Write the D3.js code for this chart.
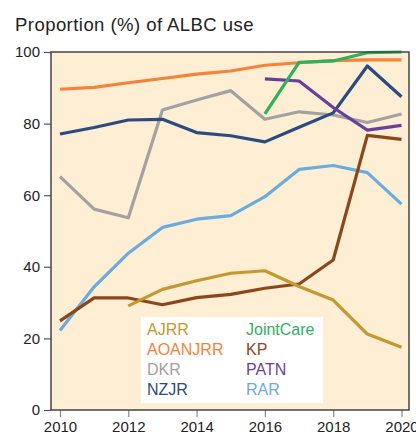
<!DOCTYPE html>
<html>
<head>
  <meta charset="utf-8">
  <script src="https://d3js.org/d3.v7.min.js"></script>
  <style>
    body { margin: 0; background: #fff; }
    svg { display: block; font-family: "Liberation Sans", Arial, sans-serif; }
  </style>
</head>
<body>
<script>
  // years on the x axis
  var years = [2010, 2011, 2012, 2013, 2014, 2015, 2016, 2017, 2018, 2019, 2020];
  var yTicks = [0, 20, 40, 60, 80, 100];
  var xTicks = [2010, 2012, 2014, 2016, 2018, 2020];

  // proportion (%) per registry, null = no data that year
  var ajrr     = [null, null, 29.1, 33.7, 36.1, 38.2, 38.9, 34.5, 30.7, 21.2, 17.5];
  var aoanjrr  = [89.6, 90.1, 91.4, 92.6, 93.8, 94.7, 96.3, 97.0, 97.6, 97.8, 97.8];
  var dkr      = [65.2, 56.1, 53.7, 83.8, 86.6, 89.2, 81.2, 83.3, 82.4, 80.3, 82.7];
  var nzjr     = [77.1, 78.9, 81.0, 81.2, 77.5, 76.6, 74.9, 79.0, 83.0, 96.1, 87.5];
  var jointcare= [null, null, null, null, null, null, 82.7, 97.1, 97.5, 99.8, 100];
  var kp       = [24.9, 31.3, 31.3, 29.4, 31.4, 32.3, 34.0, 35.2, 41.9, 76.7, 75.6];
  var patn     = [null, null, null, null, null, null, 92.5, 91.9, 84.5, 78.2, 79.5];
  var rar      = [22.2, 34.4, 43.8, 51.0, 53.3, 54.3, 59.6, 67.2, 68.3, 66.3, 57.5];

  var seriesNames = ["AJRR", "AOANJRR", "DKR", "NZJR", "JointCare", "KP", "PATN", "RAR"];
  var seriesValues = [ajrr, aoanjrr, dkr, nzjr, jointcare, kp, patn, rar];
  var colors = ["#c4982f", "#f5823b", "#a2a2a2", "#2b4a82", "#2eb05f", "#8c461c", "#6a3f99", "#6bacdf"];

  // drawing order (back to front)
  var drawOrder = [1, 2, 7, 5, 0, 3, 6, 4];

  var width = 416, height = 436;
  var box = {left: 51, right: 409, top: 52, bottom: 410};

  var svg = d3.select("body").append("svg")
    .attr("width", width)
    .attr("height", height);

  svg.append("text")
    .attr("x", 15)
    .attr("y", 31)
    .style("font-size", "18.5px")
    .style("letter-spacing", "0.45px")
    .style("fill", "#222")
    .text("Proportion (%) of ALBC use");

  var x = d3.scaleLinear().domain([2010, 2020]).range([60, 401.5]);
  var y = d3.scaleLinear().domain([0, 100]).range([410, 52]);

  // plot background
  svg.append("rect")
    .attr("x", box.left)
    .attr("y", box.top)
    .attr("width", box.right - box.left)
    .attr("height", box.bottom - box.top)
    .style("fill", "#fdeed4");

  // y axis
  var yAxis = svg.append("g")
    .attr("transform", "translate(" + box.left + ",0)")
    .call(d3.axisLeft(y).tickValues(yTicks).tickSize(7).tickPadding(4));
  yAxis.select(".domain").remove();
  yAxis.selectAll("line").attr("stroke", "#555").attr("stroke-width", 1.2);
  yAxis.selectAll("text").style("font-size", "15px").style("fill", "#222").attr("font-family", null);

  // x axis
  var xAxis = svg.append("g")
    .attr("transform", "translate(0," + box.bottom + ")")
    .call(d3.axisBottom(x).tickValues(xTicks).tickFormat(d3.format("d")).tickSize(7).tickPadding(4));
  xAxis.select(".domain").remove();
  xAxis.selectAll("line").attr("stroke", "#888").attr("stroke-width", 1.2);
  xAxis.selectAll("text").style("font-size", "15px").style("fill", "#222").attr("font-family", null);

  // lines
  var line = d3.line()
    .defined(function (d) { return d != null; })
    .x(function (d, i) { return x(years[i]); })
    .y(function (d) { return y(d); });

  svg.selectAll("path.series")
    .data(drawOrder)
    .enter()
    .append("path")
      .attr("class", "series")
      .attr("d", function (k) { return line(seriesValues[k]); })
      .style("fill", "none")
      .style("stroke", function (k) { return colors[k]; })
      .style("stroke-width", 3.2)
      .style("stroke-linejoin", "round");

  // frame
  svg.append("rect")
    .attr("x", box.left)
    .attr("y", box.top)
    .attr("width", box.right - box.left)
    .attr("height", box.bottom - box.top)
    .style("fill", "none")
    .style("stroke", "#444")
    .style("stroke-width", 1.5);

  // legend
  svg.append("rect")
    .attr("x", 141)
    .attr("y", 317)
    .attr("width", 182)
    .attr("height", 86)
    .style("fill", "#fff");

  svg.selectAll("text.legend")
    .data(seriesNames)
    .enter()
    .append("text")
      .attr("class", "legend")
      .attr("x", function (d, i) { return i < 4 ? 147 : 246; })
      .attr("y", function (d, i) { return 335 + (i % 4) * 20; })
      .style("font-size", "16px")
      .style("fill", function (d, i) { return colors[i]; })
      .text(function (d) { return d; });
</script>
</body>
</html>
